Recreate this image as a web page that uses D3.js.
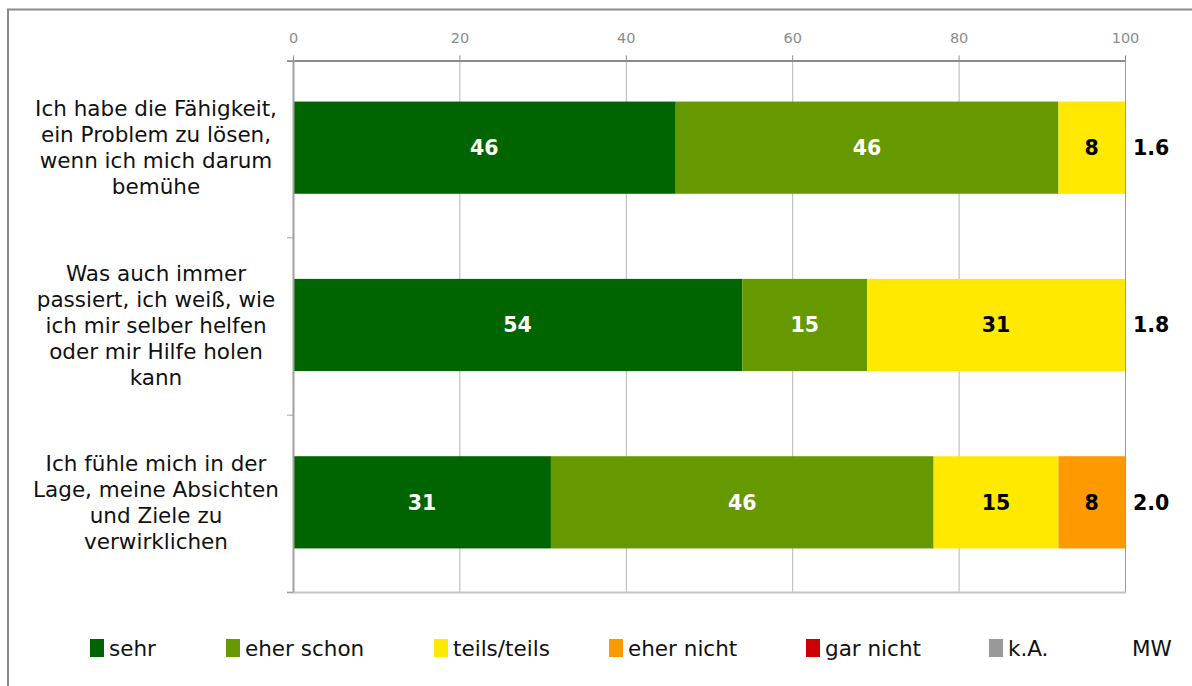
<!DOCTYPE html>
<html>
<head>
<meta charset="utf-8">
<script src="https://cdn.jsdelivr.net/npm/d3@7"></script>
<style>
  html, body { margin: 0; padding: 0; background: #fff; }
  svg { display: block; }
  text { font-family: "DejaVu Sans", Verdana, sans-serif; }
</style>
</head>
<body>
<svg id="chart" width="1192" height="686"></svg>
<script>
// Survey items (each label split into display lines)
const categories = [
  ["Ich habe die Fähigkeit,", "ein Problem zu lösen,", "wenn ich mich darum", "bemühe"],
  ["Was auch immer", "passiert, ich weiß, wie", "ich mir selber helfen", "oder mir Hilfe holen", "kann"],
  ["Ich fühle mich in der", "Lage, meine Absichten", "und Ziele zu", "verwirklichen"]
];
const seriesNames = ["sehr", "eher schon", "teils/teils", "eher nicht", "gar nicht", "k.A."];
const seriesColors = ["#006400", "#669900", "#FFE900", "#FF9900", "#CC0000", "#999999"];
const labelColors = ["#ffffff", "#ffffff", "#000000", "#000000", "#ffffff", "#000000"];
// Percent per series, one entry per item
const sehr      = [46, 54, 31];
const eherSchon = [46, 15, 46];
const teils     = [8, 31, 15];
const eherNicht = [0, 0, 8];
const garNicht  = [0, 0, 0];
const kA        = [0, 0, 0];
const meanValues = ["1.6", "1.8", "2.0"];
const xTicks = [0, 20, 40, 60, 80, 100];

const seriesValues = [sehr, eherSchon, teils, eherNicht, garNicht, kA];

const svg = d3.select("#chart");

// outer frame
svg.append("rect").attr("x", 8).attr("y", 9.5).attr("width", 1200).attr("height", 700)
  .attr("fill", "none").attr("stroke", "#8a8a8a").attr("stroke-width", 2);

const plot = { left: 293, right: 1125, top: 60, bottom: 592 };

const x = d3.scaleLinear().domain([0, 100]).range([plot.left, plot.right]);
const y = d3.scaleBand().domain(d3.range(categories.length))
  .range([plot.top - 1, plot.bottom - 1]).paddingInner(0.48).paddingOuter(0.24);

// vertical gridlines
svg.append("g").selectAll("line").data(xTicks.slice(1, -1)).join("line")
  .attr("x1", d => x(d) + 0.5).attr("x2", d => x(d) + 0.5)
  .attr("y1", plot.top).attr("y2", plot.bottom)
  .attr("stroke", "#b4b4b4").attr("stroke-width", 1);

// plot box: right and bottom edges
svg.append("line").attr("x1", x(100) + 0.5).attr("x2", x(100) + 0.5)
  .attr("y1", plot.top).attr("y2", plot.bottom).attr("stroke", "#9a9a9a");
svg.append("line").attr("x1", plot.left - 6).attr("x2", x(100) + 1)
  .attr("y1", plot.bottom + 0.5).attr("y2", plot.bottom + 0.5).attr("stroke", "#c4c4c4").attr("stroke-width", 2);

// stacked segments
const stacked = categories.map((c, i) => {
  let acc = 0;
  return seriesValues.map((s, k) => {
    const seg = { row: i, k, v: s[i], x0: acc, x1: acc + s[i] };
    acc += s[i];
    return seg;
  }).filter(d => d.v > 0);
});

const rows = svg.append("g").selectAll("g").data(stacked).join("g");
rows.selectAll("rect").data(d => d).join("rect")
  .attr("x", d => x(d.x0)).attr("width", d => x(d.x1) - x(d.x0))
  .attr("y", d => y(d.row)).attr("height", y.bandwidth())
  .attr("fill", d => seriesColors[d.k]);
rows.selectAll("text").data(d => d).join("text")
  .attr("x", d => (x(d.x0) + x(d.x1)) / 2)
  .attr("y", d => y(d.row) + y.bandwidth() / 2)
  .attr("dy", "0.36em").attr("text-anchor", "middle")
  .attr("font-size", 20.5).attr("font-weight", "bold")
  .attr("fill", d => labelColors[d.k])
  .text(d => d.v);

// top axis
const xAxis = d3.axisTop(x).tickValues(xTicks).tickSize(5).tickPadding(13);
const gx = svg.append("g").attr("transform", `translate(0,${plot.top + 0.5})`).call(xAxis);
gx.select(".domain").attr("d", `M${plot.left - 6},0.5H${x(100) + 0.5}`).attr("stroke", "#8c8c8c").attr("stroke-width", 2);
gx.selectAll(".tick line").attr("stroke", "#8c8c8c");
gx.selectAll(".tick text").attr("fill", "#8c8c8c").attr("font-size", 14.5)
  .attr("font-family", "'Liberation Sans', Arial, sans-serif");

// left axis with ticks between bands
const leftAxis = svg.append("g");
leftAxis.append("line").attr("x1", plot.left + 0.5).attr("x2", plot.left + 0.5)
  .attr("y1", plot.top).attr("y2", plot.bottom).attr("stroke", "#a0a0a0").attr("stroke-width", 2);
const bandStep = (plot.bottom - plot.top) / categories.length;
leftAxis.selectAll("line.tk").data(d3.range(categories.length + 1)).join("line").attr("class", "tk")
  .attr("x1", plot.left - 6).attr("x2", plot.left)
  .attr("y1", d => plot.top + d * bandStep + 0.5).attr("y2", d => plot.top + d * bandStep + 0.5)
  .attr("stroke", "#a0a0a0");

// category labels
const lineH = 26;
svg.append("g").selectAll("text").data(categories).join("text")
  .attr("text-anchor", "middle").attr("font-size", 21.5).attr("fill", "#111")
  .each(function (lines, i) {
    const cy = y(i) + y.bandwidth() / 2;
    const top = cy - (lines.length - 1) * lineH / 2;
    d3.select(this).selectAll("tspan").data(lines).join("tspan")
      .attr("x", 156).attr("y", (d, j) => top + j * lineH).attr("dy", "0.36em").text(d => d);
  });

// mean values
svg.append("g").selectAll("text").data(meanValues).join("text")
  .attr("x", 1133).attr("y", (d, i) => y(i) + y.bandwidth() / 2).attr("dy", "0.36em")
  .attr("font-size", 20.5).attr("font-weight", "bold").attr("fill", "#000")
  .text(d => d);

// legend
const legendX = [90, 226, 434, 609, 806, 989];
const legY = 648;
const leg = svg.append("g").selectAll("g").data(seriesNames).join("g")
  .attr("transform", (d, i) => `translate(${legendX[i]},${legY})`);
leg.append("rect").attr("x", 0).attr("y", -9).attr("width", 14).attr("height", 18)
  .attr("fill", (d, i) => seriesColors[i]);
leg.append("text").attr("x", 19).attr("dy", "0.36em").attr("font-size", 21.5).attr("fill", "#111")
  .text(d => d);
svg.append("text").attr("x", 1132).attr("y", legY).attr("dy", "0.36em")
  .attr("font-size", 21.5).attr("fill", "#111").text("MW");
</script>
</body>
</html>
